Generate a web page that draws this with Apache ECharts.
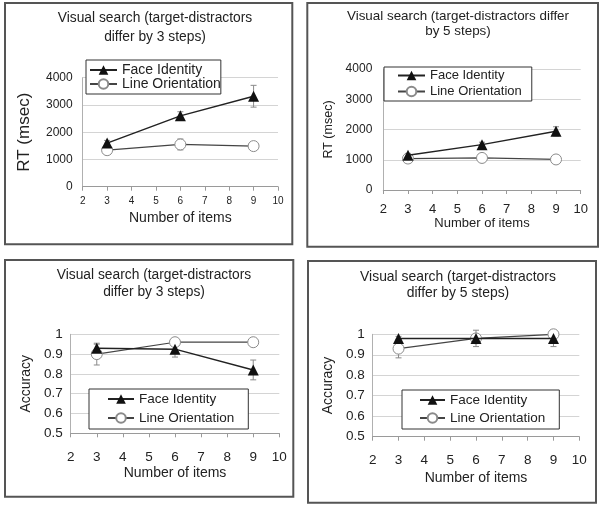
<!DOCTYPE html>
<html><head><meta charset="utf-8">
<script src="https://cdn.jsdelivr.net/npm/echarts@6/dist/echarts.min.js"></script>
<style>html,body{margin:0;padding:0;background:#fff}#c{width:600px;height:507px}</style>
</head><body><div id="c"></div>
<script>
// ---- data ----
const items = [3, 6, 9];
const seriesNames = ['Face Identity', 'Line Orientation'];
const xAxisName = 'Number of items';
const yAxisNames = ['RT (msec)', 'RT (msec)', 'Accuracy', 'Accuracy'];
const titleLines = [
  ['Visual search (target-distractors', 'differ by 3 steps)'],
  ['Visual search (target-distractors differ', 'by 5 steps)'],
  ['Visual search (target-distractors', 'differ by 3 steps)'],
  ['Visual search (target-distractors', 'differ by 5 steps)']
];
// RT, 3 steps
const rt3Face = [1600, 2600, 3320];
const rt3FaceErr = [100, 150, 400];
const rt3Line = [1340, 1550, 1490];
const rt3LineErr = [80, 200, 150];
// RT, 5 steps
const rt5Face = [1150, 1500, 1940];
const rt5FaceErr = [60, 80, 150];
const rt5Line = [1040, 1060, 1010];
const rt5LineErr = [50, 60, 60];
// Accuracy, 3 steps
const acc3Face = [0.93, 0.925, 0.82];
const acc3FaceErr = [0.02, 0.04, 0.05];
const acc3Line = [0.90, 0.96, 0.96];
const acc3LineErr = [0.055, 0.01, 0.01];
// Accuracy, 5 steps
const acc5Face = [0.98, 0.98, 0.98];
const acc5FaceErr = [0.01, 0.02, 0.04];
const acc5Line = [0.93, 0.98, 1.0];
const acc5LineErr = [0.045, 0.04, 0.01];

const panelData = [
  [rt3Face, rt3FaceErr, rt3Line, rt3LineErr],
  [rt5Face, rt5FaceErr, rt5Line, rt5LineErr],
  [acc3Face, acc3FaceErr, acc3Line, acc3LineErr],
  [acc5Face, acc5FaceErr, acc5Line, acc5LineErr]
];
const yRanges = [[0, 4000, 1000], [0, 4000, 1000], [0.5, 1, 0.1], [0.5, 1, 0.1]];

// ---- layout / style ----
const FONT = '"Liberation Sans", Arial, sans-serif';
const panels = [
  { grid: {left: 82.7, top: 77.7, width: 195.3, height: 109},
    border: [5, 3, 292.3, 244.3],
    title: {x: 155, y: [18, 37], size: 13.8},
    yLab: {size: 12, margin: 10}, xLab: {size: 10, margin: 10},
    xName: {size: 14, gap: 24}, yName: {size: 17, gap: 50},
    legend: {left: 86, top: 60, pad: [3, 0, 3, 3], iw: 27, size: 14, gap: 0} },
  { grid: {left: 383.3, top: 69, width: 197.4, height: 121},
    border: [307.3, 3, 598, 246.7],
    title: {x: 458, y: [16, 31], size: 13.4},
    yLab: {size: 12, margin: 11}, xLab: {size: 13, margin: 13},
    xName: {size: 13, gap: 27}, yName: {size: 12.5, gap: 48},
    legend: {left: 384, top: 67, pad: [2, 10, 3, 13], iw: 27, size: 13, gap: 3} },
  { grid: {left: 70.7, top: 334.3, width: 208.6, height: 99},
    border: [5, 260, 293.3, 496.7],
    title: {x: 154, y: [275, 292], size: 13.8},
    yLab: {size: 13.5, margin: 8}, xLab: {size: 13.5, margin: 17},
    xName: {size: 14, gap: 33}, yName: {size: 14, gap: 38},
    legend: {left: 89, top: 389, pad: [3, 14, 4, 18], iw: 26, size: 13.5, gap: 5} },
  { grid: {left: 372.7, top: 334.3, width: 206.6, height: 102.4},
    border: [308, 261, 596, 502.7],
    title: {x: 458, y: [277, 293], size: 13.9},
    yLab: {size: 13.5, margin: 8}, xLab: {size: 13.5, margin: 17},
    xName: {size: 14, gap: 34}, yName: {size: 14, gap: 38},
    legend: {left: 402, top: 390, pad: [3, 14, 4, 17], iw: 25, size: 13.5, gap: 4} }
];

function errRender(params, api) {
  const x = api.value(0), lo = api.value(1), hi = api.value(2);
  const a = api.coord([x, lo]), b = api.coord([x, hi]);
  const w = 3;
  const style = {stroke: '#8a8a8a', lineWidth: 1, fill: null};
  return {type: 'group', children: [
    {type: 'line', shape: {x1: a[0], y1: a[1], x2: b[0], y2: b[1]}, style},
    {type: 'line', shape: {x1: a[0] - w, y1: a[1], x2: a[0] + w, y2: a[1]}, style},
    {type: 'line', shape: {x1: b[0] - w, y1: b[1], x2: b[0] + w, y2: b[1]}, style}
  ]};
}

const grid = [], xAxis = [], yAxis = [], series = [], legend = [], graphic = [];
panels.forEach((p, i) => {
  grid.push(Object.assign({containLabel: false}, p.grid));
  xAxis.push({
    type: 'value', gridIndex: i, min: 2, max: 10, interval: 1,
    name: xAxisName, nameLocation: 'middle', nameGap: p.xName.gap,
    nameTextStyle: {fontFamily: FONT, fontSize: p.xName.size, color: '#222'},
    axisLine: {lineStyle: {color: '#9a9a9a', width: 1}},
    axisTick: {show: true, length: 4, lineStyle: {color: '#9a9a9a'}},
    axisLabel: {fontFamily: FONT, fontSize: p.xLab.size, color: '#222', margin: p.xLab.margin},
    splitLine: {show: false}
  });
  const yr = yRanges[i];
  yAxis.push({
    type: 'value', gridIndex: i, min: yr[0], max: yr[1], interval: yr[2],
    name: yAxisNames[i], nameLocation: 'middle', nameGap: p.yName.gap, nameRotate: 90,
    nameTextStyle: {fontFamily: FONT, fontSize: p.yName.size, color: '#222'},
    axisLine: {show: true, lineStyle: {color: '#b0b0b0', width: 1}},
    axisTick: {show: false},
    axisLabel: {fontFamily: FONT, fontSize: p.yLab.size, color: '#222', margin: p.yLab.margin,
      formatter: v => String(+v.toFixed(1))},
    splitLine: {show: true, lineStyle: {color: '#d4d4d4', width: 1}}
  });
  const [face, faceErr, line, lineErr] = panelData[i];
  series.push({
    type: 'custom', xAxisIndex: i, yAxisIndex: i, renderItem: errRender, clip: false, z: 1,
    encode: {x: 0, y: [1, 2]}, silent: true,
    data: items.map((x, k) => [x, face[k] - faceErr[k], face[k] + faceErr[k]])
  });
  series.push({
    type: 'custom', xAxisIndex: i, yAxisIndex: i, renderItem: errRender, clip: false, z: 1,
    encode: {x: 0, y: [1, 2]}, silent: true,
    data: items.map((x, k) => [x, line[k] - lineErr[k], line[k] + lineErr[k]])
  });
  series.push({
    name: seriesNames[0], type: 'line', xAxisIndex: i, yAxisIndex: i, z: 3,
    symbol: 'triangle', symbolSize: 11, animation: false,
    itemStyle: {color: '#111'}, lineStyle: {color: '#222', width: 1.5},
    data: items.map((x, k) => [x, face[k]])
  });
  series.push({
    name: seriesNames[1], type: 'line', xAxisIndex: i, yAxisIndex: i, z: 2,
    symbol: 'circle', symbolSize: 11, showAllSymbol: true, animation: false,
    itemStyle: {color: '#fff', borderColor: '#8a8a8a', borderWidth: 1},
    lineStyle: {color: '#444', width: 1.2},
    data: items.map((x, k) => [x, line[k]])
  });
  const L = p.legend;
  legend.push({
    data: seriesNames, orient: 'vertical', left: L.left, top: L.top,
    padding: L.pad, itemGap: L.gap, itemWidth: L.iw, itemHeight: 12,
    backgroundColor: '#fff', borderColor: '#333', borderWidth: 1, borderRadius: 0,
    selectedMode: false, z: 10,
    textStyle: {fontFamily: FONT, fontSize: L.size, color: '#222'}
  });
  const b = p.border;
  graphic.push({type: 'rect', shape: {x: b[0], y: b[1], width: b[2] - b[0], height: b[3] - b[1]},
    style: {fill: null, stroke: '#555', lineWidth: 2}, silent: true});
  titleLines[i].forEach((t, j) => {
    graphic.push({type: 'text', x: p.title.x, y: p.title.y[j], silent: true,
      style: {text: t, fill: '#222', font: p.title.size + 'px ' + FONT, textAlign: 'center', textVerticalAlign: 'middle'}});
  });
});

const chart = echarts.init(document.getElementById('c'), null, {renderer: 'canvas'});
chart.setOption({animation: false, grid, xAxis, yAxis, series, legend, graphic});
</script></body></html>
